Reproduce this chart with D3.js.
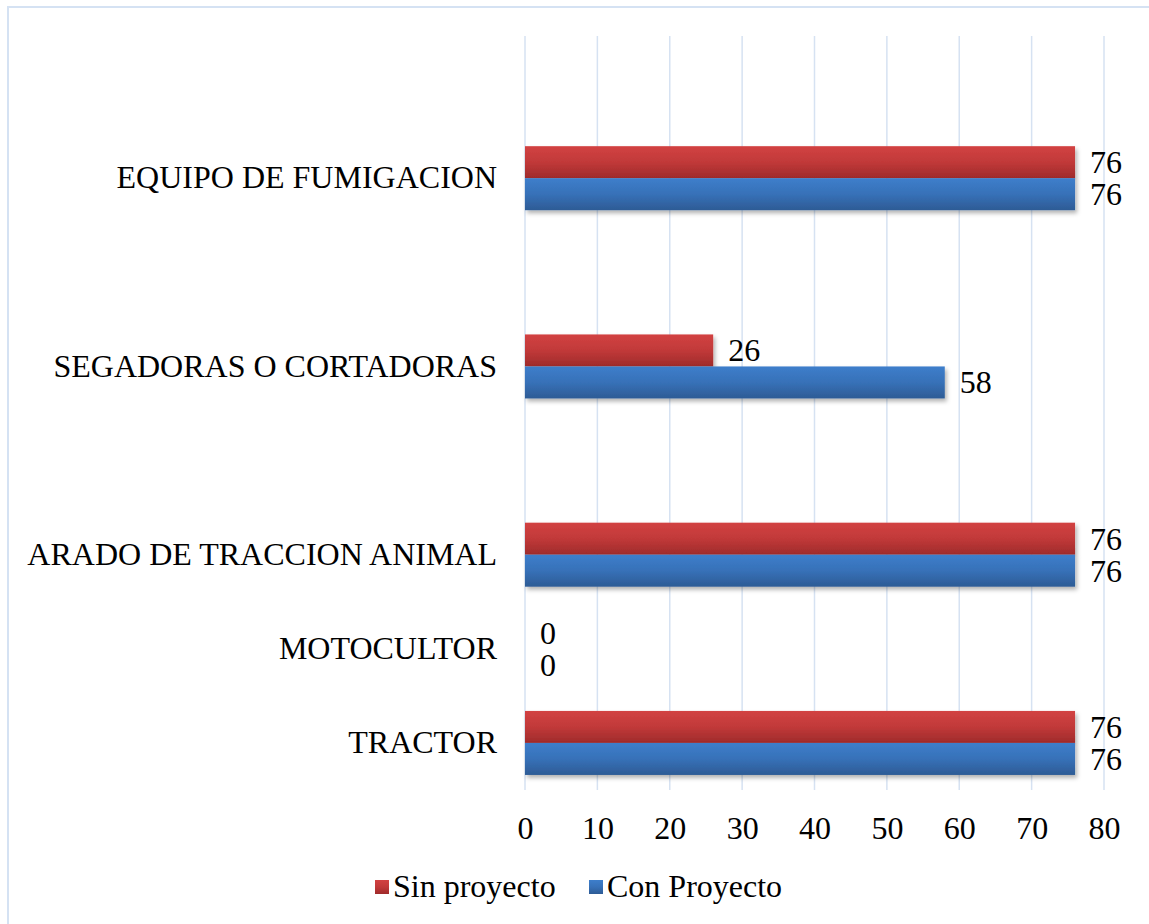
<!DOCTYPE html>
<html>
<head>
<meta charset="utf-8">
<script src="https://cdn.jsdelivr.net/npm/d3@7"></script>
<style>
  html, body { margin: 0; padding: 0; background: #fff; }
  svg { display: block; }
  svg text { font-family: "Liberation Serif", "Times New Roman", serif; }
</style>
</head>
<body>
<svg id="chart" width="1149" height="924"></svg>
<script>
// categories top to bottom, blank slots are empty rows in the original chart
const categories = ["", "EQUIPO DE FUMIGACION", "", "SEGADORAS O CORTADORAS", "", "ARADO DE TRACCION ANIMAL", "MOTOCULTOR", "TRACTOR"];
const sinProyecto = [null, 76, null, 26, null, 76, 0, 76];
const conProyecto = [null, 76, null, 58, null, 76, 0, 76];
const xTicks = [0, 10, 20, 30, 40, 50, 60, 70, 80];
const seriesNames = ["Sin proyecto", "Con Proyecto"];

const margin = {top: 37, right: 45, bottom: 134, left: 525};
const width = 1149, height = 924;
const fs = 32;

const svg = d3.select("#chart");

// outer frame
svg.append("rect")
  .attr("x", 8).attr("y", 7)
  .attr("width", 1150).attr("height", 940)
  .attr("fill", "none")
  .attr("stroke", "#d5e2f3")
  .attr("stroke-width", 2);

const defs = svg.append("defs");
const grads = [
  {id: "gRed", top: "#d24242", mid: "#c13939", bot: "#9f2b2b"},
  {id: "gBlue", top: "#3d7ecb", mid: "#3771b8", bot: "#2d5b95"}
];
grads.forEach(g => {
  const lg = defs.append("linearGradient").attr("id", g.id)
    .attr("x1", 0).attr("y1", 0).attr("x2", 0).attr("y2", 1);
  lg.append("stop").attr("offset", "0%").attr("stop-color", g.top);
  lg.append("stop").attr("offset", "50%").attr("stop-color", g.mid);
  lg.append("stop").attr("offset", "100%").attr("stop-color", g.bot);
});
defs.append("filter").attr("id", "shadow")
  .attr("x", "-5%").attr("y", "-20%").attr("width", "110%").attr("height", "160%")
  .append("feDropShadow")
  .attr("dx", 2).attr("dy", 3).attr("stdDeviation", 2)
  .attr("flood-color", "#000").attr("flood-opacity", 0.3);

const x = d3.scaleLinear()
  .domain([0, 80])
  .range([margin.left, 1104]);

const y = d3.scaleBand()
  .domain(d3.range(categories.length))
  .range([margin.top, height - margin.bottom])
  .padding(0);

const barH = y.bandwidth() * 0.34;

// grid lines
svg.append("g")
  .selectAll("line")
  .data(xTicks)
  .join("line")
  .attr("x1", d => x(d)).attr("x2", d => x(d))
  .attr("y1", 36).attr("y2", 790)
  .attr("stroke", "#d6e2f2")
  .attr("stroke-width", 1.5);

// x axis labels
const xAxis = d3.axisBottom(x).tickValues(xTicks).tickSize(0).tickPadding(0);
svg.append("g")
  .attr("transform", "translate(0,839)")
  .call(xAxis)
  .attr("font-family", null)
  .call(g => g.select(".domain").remove())
  .call(g => g.selectAll("text")
    .attr("font-size", fs)
    .attr("fill", "#000")
    .attr("dy", null));

// category labels
svg.append("g")
  .selectAll("text")
  .data(categories)
  .join("text")
  .attr("x", 497)
  .attr("y", (d, i) => y(i) + y.bandwidth() / 2)
  .attr("dy", "0.32em")
  .attr("text-anchor", "end")
  .attr("font-size", fs)
  .attr("fill", "#000")
  .text(d => d);

const rows = categories.map((c, i) => ({i, sin: sinProyecto[i], con: conProyecto[i]}));
const series = [
  {key: "sin", fill: "url(#gRed)", off: -1},
  {key: "con", fill: "url(#gBlue)", off: 0}
];

series.forEach(s => {
  const data = rows.filter(r => r[s.key] !== null);
  const yPos = r => y(r.i) + y.bandwidth() / 2 + s.off * barH;
  svg.append("g")
    .selectAll("rect")
    .data(data.filter(r => r[s.key] > 0))
    .join("rect")
    .attr("x", x(0))
    .attr("y", yPos)
    .attr("width", r => x(r[s.key]) - x(0))
    .attr("height", barH)
    .attr("fill", s.fill)
    .attr("filter", "url(#shadow)");
  svg.append("g")
    .selectAll("text")
    .data(data)
    .join("text")
    .attr("x", r => x(r[s.key]) + 15)
    .attr("y", r => yPos(r) + barH / 2)
    .attr("dy", "0.34em")
    .attr("font-size", fs)
    .attr("fill", "#000")
    .text(r => r[s.key]);
});

// legend
const legend = svg.append("g");
const legendPos = [375, 589];
const legendFill = ["url(#gRed)", "url(#gBlue)"];
seriesNames.forEach((name, i) => {
  legend.append("rect")
    .attr("x", legendPos[i]).attr("y", 880)
    .attr("width", 14).attr("height", 14)
    .attr("fill", legendFill[i]);
  legend.append("text")
    .attr("x", legendPos[i] + 18).attr("y", 897)
    .attr("font-size", fs)
    .attr("fill", "#000")
    .text(name);
});
</script>
</body>
</html>
